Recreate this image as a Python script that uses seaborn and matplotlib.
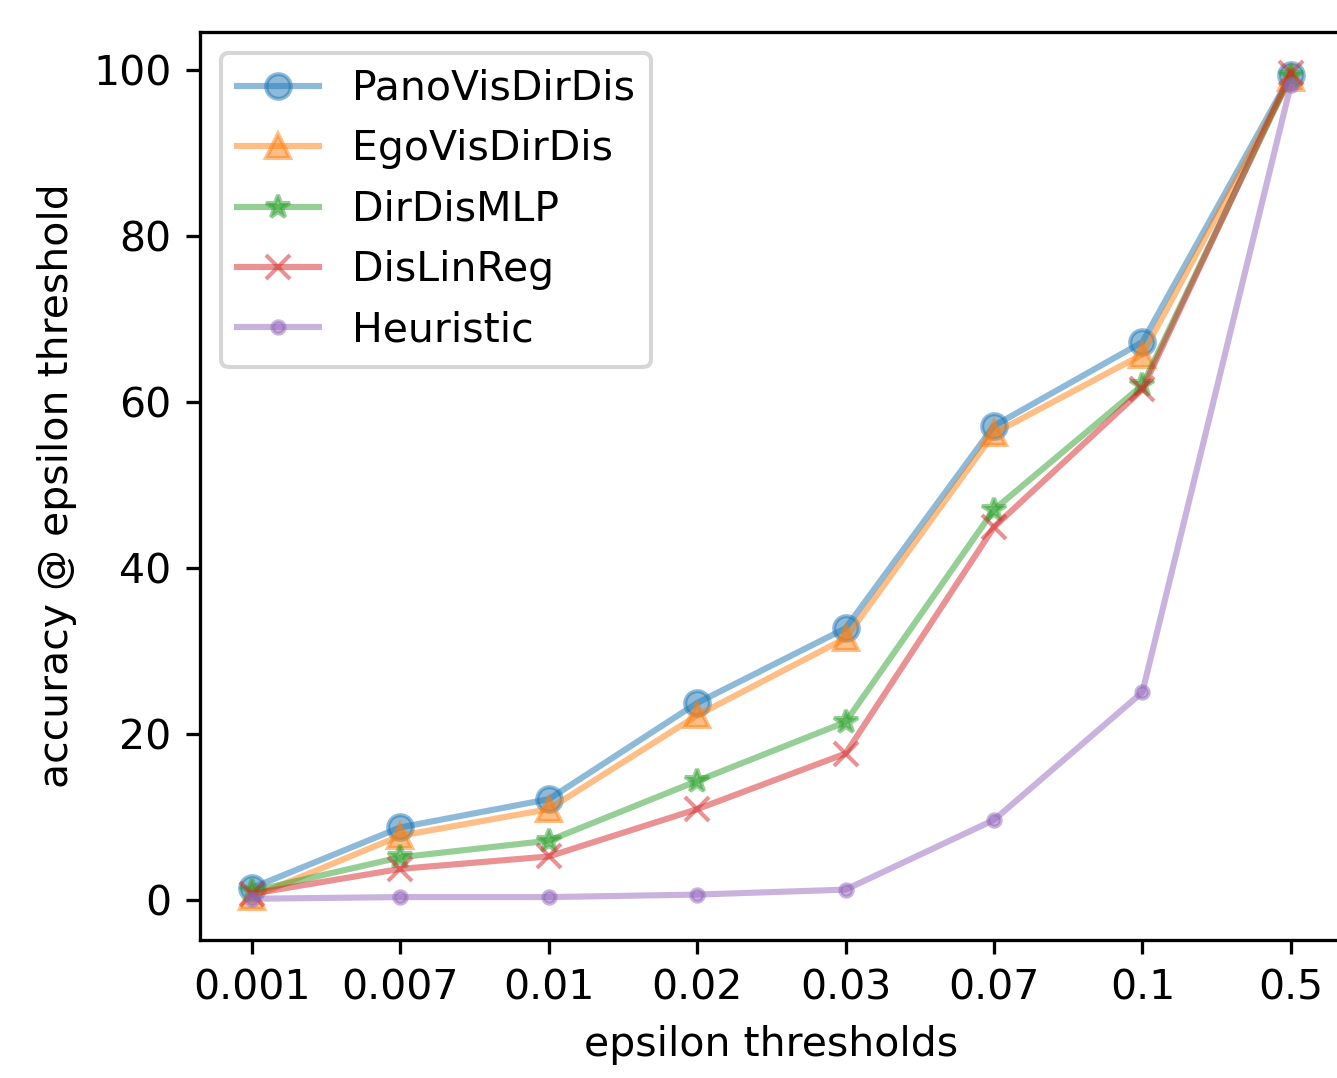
import matplotlib
matplotlib.use('Agg')
import matplotlib.pyplot as plt
import seaborn as sns
import pandas as pd
import numpy as np

# epsilon thresholds (categorical x axis)
thresholds = ['0.001', '0.007', '0.01', '0.02', '0.03', '0.07', '0.1', '0.5']

# accuracy @ epsilon threshold
pano_vis_dir_dis = [1.4, 8.7, 12.1, 23.7, 32.7, 57.1, 67.2, 99.4]
ego_vis_dir_dis = [0.3, 7.7, 10.9, 22.2, 31.5, 56.2, 65.7, 99.0]
dir_dis_mlp = [1.0, 5.1, 7.1, 14.3, 21.4, 47.0, 62.0, 99.3]
dis_lin_reg = [0.7, 3.7, 5.2, 10.9, 17.6, 44.9, 61.5, 99.6]
heuristic = [0.1, 0.3, 0.3, 0.6, 1.2, 9.6, 25.0, 98.2]

metodos = ['PanoVisDirDis', 'EgoVisDirDis', 'DirDisMLP', 'DisLinReg', 'Heuristic']
valores = [pano_vis_dir_dis, ego_vis_dir_dis, dir_dis_mlp, dis_lin_reg, heuristic]
marcadores = ['o', '^', '*', 'x', '.']
colores = ['tab:blue', 'tab:orange', 'tab:green', 'tab:red', 'tab:purple']

df = pd.DataFrame({
    'pos': np.tile(np.arange(len(thresholds)), len(metodos)),
    'accuracy': np.concatenate(valores),
    'metodo': np.repeat(metodos, len(thresholds)),
})

DPI = 295
fig = plt.figure(figsize=(1337 / DPI, 1078 / DPI), dpi=DPI)
ax = fig.add_axes([0.1496, 0.128, 0.8547, 0.8423])

for metodo, marker, color in zip(metodos, marcadores, colores):
    sns.lineplot(
        data=df[df['metodo'] == metodo],
        x='pos',
        y='accuracy',
        marker=marker,
        color=color,
        markeredgecolor=color,
        markeredgewidth=1.0,
        markersize=6,
        alpha=0.5,
        label=metodo,
        ax=ax
    )

ax.set_xticks(range(len(thresholds)))
ax.set_xticklabels(thresholds)
ax.set_xlim(-0.35, len(thresholds) - 1 + 0.35)
ax.set_xlabel('epsilon thresholds')
ax.set_ylabel('accuracy @ epsilon threshold')
ax.legend(loc='upper left')

fig.savefig('out.png', dpi=DPI)
